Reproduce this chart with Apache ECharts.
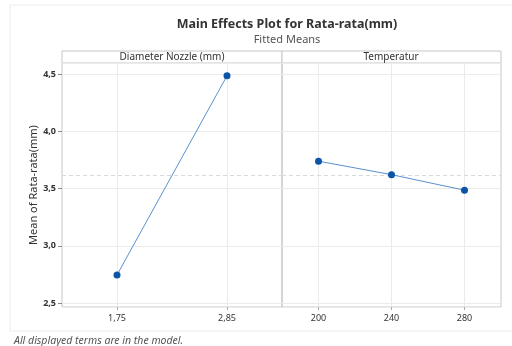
<!DOCTYPE html>
<html>
<head>
<meta charset="utf-8">
<script src="https://cdn.jsdelivr.net/npm/echarts@6/dist/echarts.min.js"></script>
<style>
  html, body { margin: 0; padding: 0; background: #fff; }
  #chart { width: 512px; height: 346px; }
</style>
</head>
<body>
<div id="chart"></div>
<script>
var myChart = echarts.init(document.getElementById('chart'));

// factor levels and fitted means
var diameterLevels = ['1,75', '2,85'];
var diameterMeans = [2.745, 4.488];
var tempLevels = ['200', '240', '280'];
var tempMeans = [3.741, 3.623, 3.487];
var overallMean = 3.617;
var yMin = 2.465;
var yMax = 4.6;

var font = 'Noto Sans';
var gridCol = '#ebebeb';
var frameCol = '#c6c6c6';

// decimal comma like the original
function commaFmt(v) {
  return v.toFixed(1).replace('.', ',');
}

function makeX(idx, levels) {
  return {
    type: 'category',
    gridIndex: idx,
    data: levels,
    boundaryGap: true,
    axisLine: { show: false },
    axisTick: { show: true, alignWithLabel: true, length: 3, lineStyle: { color: '#aaa' } },
    axisLabel: { color: '#333', fontSize: 9, fontFamily: font, margin: 7 },
    splitLine: { show: true, interval: 0, alignWithLabel: true, lineStyle: { color: gridCol } }
  };
}

function makeY(idx, showLabels) {
  return {
    type: 'value',
    gridIndex: idx,
    min: yMin,
    max: yMax,
    splitNumber: 4,
    name: showLabels ? 'Mean of Rata-rata(mm)' : '',
    nameLocation: 'middle',
    nameGap: 23,
    nameTextStyle: { color: '#333', fontSize: 11, fontFamily: font },
    axisLine: { show: false },
    axisTick: { show: showLabels, length: 4, lineStyle: { color: '#888' } },
    axisLabel: {
      show: showLabels,
      showMinLabel: false,
      showMaxLabel: false,
      color: '#333',
      fontSize: 9,
      fontWeight: 'bold',
      fontFamily: font,
      margin: 6,
      formatter: commaFmt
    },
    splitLine: { show: true, lineStyle: { color: gridCol } }
  };
}

function makeSeries(idx, values) {
  return {
    type: 'line',
    xAxisIndex: idx,
    yAxisIndex: idx,
    data: values,
    symbol: 'circle',
    symbolSize: 7,
    itemStyle: { color: '#0a55a8' },
    lineStyle: { color: '#5b90d0', width: 1 },
    markLine: {
      silent: true,
      symbol: 'none',
      label: { show: false },
      lineStyle: { color: '#d9d9d9', type: [4, 3], width: 1 },
      data: [{ yAxis: overallMean }]
    },
    z: 5
  };
}

var option = {
  animation: false,
  backgroundColor: '#fff',
  title: [
    {
      text: 'Main Effects Plot for Rata-rata(mm)',
      subtext: 'Fitted Means',
      left: 282,
      top: 13,
      textAlign: 'center',
      itemGap: 3,
      textStyle: { color: '#333', fontSize: 12.5, fontWeight: 'bold', fontFamily: font },
      subtextStyle: { color: '#555', fontSize: 11, fontFamily: font }
    },
    {
      text: 'All displayed terms are in the model.',
      left: 9,
      top: 331,
      textStyle: { color: '#555', fontSize: 10.5, fontStyle: 'italic', fontWeight: 'normal', fontFamily: font }
    }
  ],
  grid: [
    { left: 62, top: 63, width: 220, height: 244, show: true, borderColor: frameCol, borderWidth: 1 },
    { left: 282, top: 63, width: 219, height: 244, show: true, borderColor: frameCol, borderWidth: 1 }
  ],
  xAxis: [makeX(0, diameterLevels), makeX(1, tempLevels)],
  yAxis: [makeY(0, true), makeY(1, false)],
  series: [makeSeries(0, diameterMeans), makeSeries(1, tempMeans)],
  graphic: [
    // faint outer frame
    { type: 'rect', shape: { x: 10, y: 5, width: 520, height: 326 }, style: { fill: 'none', stroke: '#ececec' }, silent: true },
    // panel header strips
    { type: 'rect', shape: { x: 62, y: 51, width: 220, height: 12 }, style: { fill: '#fff', stroke: frameCol } },
    { type: 'rect', shape: { x: 282, y: 51, width: 219, height: 12 }, style: { fill: '#fff', stroke: frameCol } },
    { type: 'text', x: 172, y: 57, style: { text: 'Diameter Nozzle (mm)', fill: '#333', font: '10px "Noto Sans"', textAlign: 'center', textVerticalAlign: 'middle' } },
    { type: 'text', x: 391, y: 57, style: { text: 'Temperatur', fill: '#333', font: '10px "Noto Sans"', textAlign: 'center', textVerticalAlign: 'middle' } }
  ]
};

myChart.setOption(option);
</script>
</body>
</html>
